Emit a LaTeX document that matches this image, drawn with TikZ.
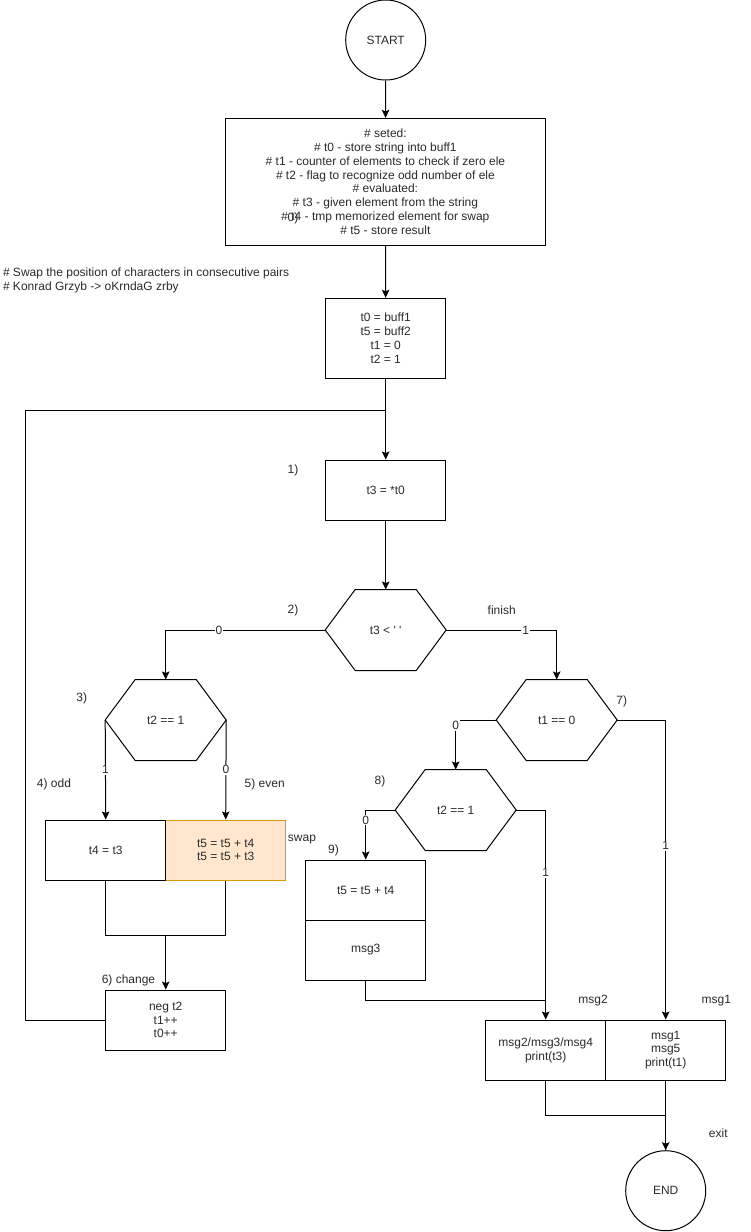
\documentclass[tikz,border=0pt]{standalone}
\usepackage{fontspec}
\setmainfont{Liberation Sans}
\usetikzlibrary{arrows.meta,calc}
\definecolor{txtc}{HTML}{2B2B2B}
\definecolor{orfill}{HTML}{FFE6CC}
\definecolor{ordraw}{HTML}{D79B00}
\newcommand\hexoutline[1]{%
  \draw ($(#1.north west)+(30,0)$) -- ($(#1.north east)+(-30,0)$) -- (#1.east)
     -- ($(#1.south east)+(-30,0)$) -- ($(#1.south west)+(30,0)$) -- (#1.west) -- cycle;}
\begin{document}
\begin{tikzpicture}[x=1pt,y=-1pt,line width=1pt,
  every node/.style={font=\fontsize{12}{13.8}\selectfont, text=txtc},
  box/.style={draw=black, line width=1pt, minimum width=120pt, minimum height=60pt, inner sep=0pt, align=center},
  hexn/.style={minimum width=120pt, minimum height=80pt, inner sep=0pt, align=center},
  term/.style={draw=black, circle, line width=1pt, minimum size=80pt, inner sep=0pt},
  arr/.style={-{Stealth[length=8pt,width=7.5pt,inset=1.5pt]}},
  elbl/.style={fill=white, inner sep=1pt},
  note/.style={inner sep=0pt, align=left}]
\useasboundingbox (0,0) rectangle (751,1232);
\fill[white] (0,0) rectangle (751,1232);

% nodes
\node[term] (start) at (385.7,40) {START};
\node[box, minimum width=320.7pt, minimum height=126.7pt] (info) at (385.4,181.7)
  {\# seted:\\ \# t0 - store string into buff1\\ \# t1 - counter of elements to check if zero ele\\
   \# t2 - flag to recognize odd number of ele\\ \# evaluated:\\ \# t3 - given element from the string\\
   \# t4 - tmp memorized element for swap\\ \# t5 - store result};
\node[inner sep=0pt] (ovl) at (293,218.3) {0)};
\node[box, minimum height=80pt] (init) at (385.7,338.3) {t0 = buff1\\t5 = buff2\\t1 = 0\\t2 = 1};
\node[box] (rd) at (385.7,490) {t3 = *t0};
\node[hexn] (h2) at (385.7,630) {t3 < \textquotesingle\ \textquotesingle};
\node[hexn] (h3) at (165.7,720) {t2 == 1};
\node[hexn] (h7) at (556.7,720) {t1 == 0};
\node[hexn] (h8) at (455.7,810) {t2 == 1};
\hexoutline{h2}
\hexoutline{h3}
\hexoutline{h7}
\hexoutline{h8}
\node[box, fill=orfill, draw=ordraw] (even) at (225.7,850) {t5 = t5 + t4\\t5 = t5 + t3};
\node[box] (odd) at (105.7,850) {t4 = t3};
\node[box] (chg) at (165.7,1020) {neg t2\\t1++\\t0++};
\node[box] (b9a) at (365.7,890) {t5 = t5 + t4};
\node[box] (b9b) at (365.7,950) {msg3};
\node[box] (msgL) at (545.7,1050) {msg2/msg3/msg4\\print(t3)};
\node[box] (msgR) at (665.7,1050) {msg1\\msg5\\print(t1)};
\node[term] (end) at (665.7,1190.7) {END};

% free labels
\node[note, anchor=west] (title) at (2.5,280.3) {\# Swap the position of characters in consecutive pairs\\ \# Konrad Grzyb -> oKrndaG zrby};
\node[note] (l1) at (293,470) {1)};
\node[note] (l2) at (293,610) {2)};
\node[note] (lfin) at (501.7,610) {finish};
\node[note] (l3) at (81.7,698) {3)};
\node[note] (l7) at (621.7,701.7) {7)};
\node[note] (l8) at (380,781.7) {8)};
\node[note] (l4) at (54,784) {4) odd};
\node[note] (l5) at (264.7,784) {5) even};
\node[note] (lswap) at (302,840) {swap};
\node[note] (l9) at (333.5,850) {9)};
\node[note] (l6) at (128.5,980) {6) change};
\node[note] (lm2) at (593,1001) {msg2};
\node[note] (lm1) at (716.3,1001) {msg1};
\node[note] (lexit) at (718.3,1133) {exit};

% connectors
\coordinate (lj) at (385.7,410.7);
\coordinate (m6) at (165.7,935);
\coordinate (j9) at (545.7,1000);
\coordinate (mend) at (665.7,1115);
\draw[arr] (start) -- (info);
\draw[arr] (info) -- (init);
\draw[arr] (init) -- (rd);
\draw (chg.west) -- ++(-80,0) |- (lj);
\draw[arr] (rd) -- (h2.north);
\draw[arr] (h2.west) -| node[elbl,pos=0.333]{0} (h3.north);
\draw[arr] (h2.east) -| node[elbl,pos=0.36]{1} (h7.north);
\draw[arr] (h3.west) -- node[elbl]{1} (odd.north);
\draw[arr] (h3.east) -- node[elbl]{0} (even.north);
\draw (odd.south) |- (m6) -| (even.south);
\draw[arr] (m6) -- (chg.north);
\draw[arr] (h7.west) -| node[elbl,pos=0.555]{0} (h8.north);
\draw[arr] (h7.east) -| node[elbl,pos=0.71]{1} (msgR.north);
\draw[arr] (h8.west) -| node[elbl,pos=0.6]{0} (b9a.north);
\draw[arr] (h8.east) -| node[elbl,pos=0.65]{1} (msgL.north);
\draw (b9b.south) |- (j9);
\draw (msgL.south) |- (mend);
\draw[arr] (msgR.south) -- (end);
\end{tikzpicture}
\end{document}
